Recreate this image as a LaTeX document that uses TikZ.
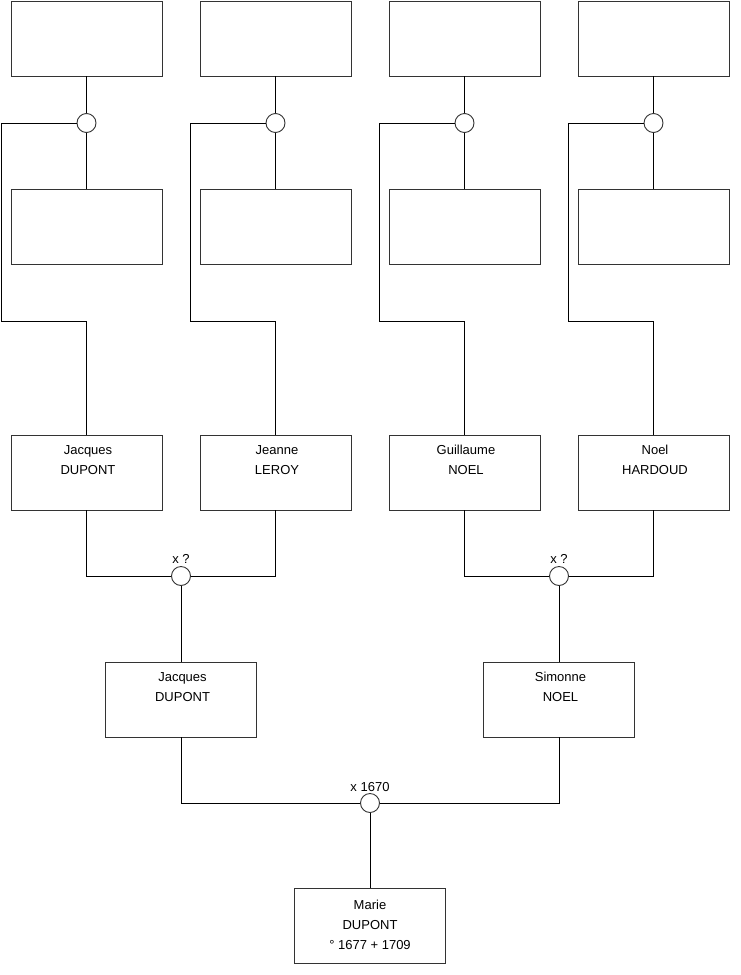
\documentclass[tikz,border=0pt]{standalone}
\usepackage{fontspec}
\setmainfont{Liberation Sans}
\begin{document}
\begin{tikzpicture}[x=1pt,y=-1pt,line width=0.9pt,
  box/.style={draw=black!80,minimum width=151pt,minimum height=75pt,inner sep=0pt},
  ring/.style={draw=black!80,fill=white,circle,minimum size=19pt,inner sep=0pt},
  who/.style={font=\fontsize{13}{20}\selectfont,align=center,anchor=north,inner sep=0pt},
  wed/.style={font=\fontsize{13}{15}\selectfont,inner sep=0pt,anchor=south}]
  \useasboundingbox (0,0) rectangle (740,975);
  % top row, unknown
  \node[box] (a1) at (86.5,38.5) {};
  \node[box] (a2) at (275.5,38.5) {};
  \node[box] (a3) at (464.5,38.5) {};
  \node[box] (a4) at (653.5,38.5) {};
  \node[ring] (c1) at (86.5,123) {};
  \node[ring] (c2) at (275.5,123) {};
  \node[ring] (c3) at (464.5,123) {};
  \node[ring] (c4) at (653.5,123) {};
  \node[box] (b1) at (86.5,227) {};
  \node[box] (b2) at (275.5,227) {};
  \node[box] (b3) at (464.5,227) {};
  \node[box] (b4) at (653.5,227) {};
  \draw (a1) -- (c1) -- (b1);
  \draw (a2) -- (c2) -- (b2);
  \draw (a3) -- (c3) -- (b3);
  \draw (a4) -- (c4) -- (b4);
  % grandparents
  \node[box] (g1) at (86.5,472.5) {};
  \node[box] (g2) at (275.5,472.5) {};
  \node[box] (g3) at (464.5,472.5) {};
  \node[box] (g4) at (653.5,472.5) {};
  \node[who] (g1t) at (88,445) {Jacques\\DUPONT};
  \node[who] (g2t) at (277,445) {Jeanne\\LEROY};
  \node[who] (g3t) at (466,445) {Guillaume\\NOEL};
  \node[who] (g4t) at (655,445) {Noel\\HARDOUD};
  \coordinate (k1) at (1,321);
  \coordinate (k2) at (190,321);
  \coordinate (k3) at (379,321);
  \coordinate (k4) at (568,321);
  \draw (c1.west) -| (k1) -| (g1.north);
  \draw (c2.west) -| (k2) -| (g2.north);
  \draw (c3.west) -| (k3) -| (g3.north);
  \draw (c4.west) -| (k4) -| (g4.north);
  % parents
  \node[ring] (m1) at (181,576) {};
  \node[ring] (m2) at (559,576) {};
  \node[wed] (m1t) at (181,564) {x ?};
  \node[wed] (m2t) at (559,564) {x ?};
  \draw (g1.south) |- (m1.west);
  \draw (g2.south) |- (m1.east);
  \draw (g3.south) |- (m2.west);
  \draw (g4.south) |- (m2.east);
  \node[box] (p1) at (181,699.5) {};
  \node[box] (p2) at (559,699.5) {};
  \node[who] (p1t) at (182.5,672) {Jacques\\DUPONT};
  \node[who] (p2t) at (560.5,672) {Simonne\\NOEL};
  \draw (m1) -- (p1);
  \draw (m2) -- (p2);
  % child
  \node[ring] (m3) at (370,803) {};
  \node[wed] (m3t) at (370,792) {x 1670};
  \draw (p1.south) |- (m3.west);
  \draw (p2.south) |- (m3.east);
  \node[box] (e1) at (370,926) {};
  \node[who] (e1t) at (370,900) {Marie\\DUPONT\\° 1677 + 1709};
  \draw (m3) -- (e1);
\end{tikzpicture}
\end{document}
